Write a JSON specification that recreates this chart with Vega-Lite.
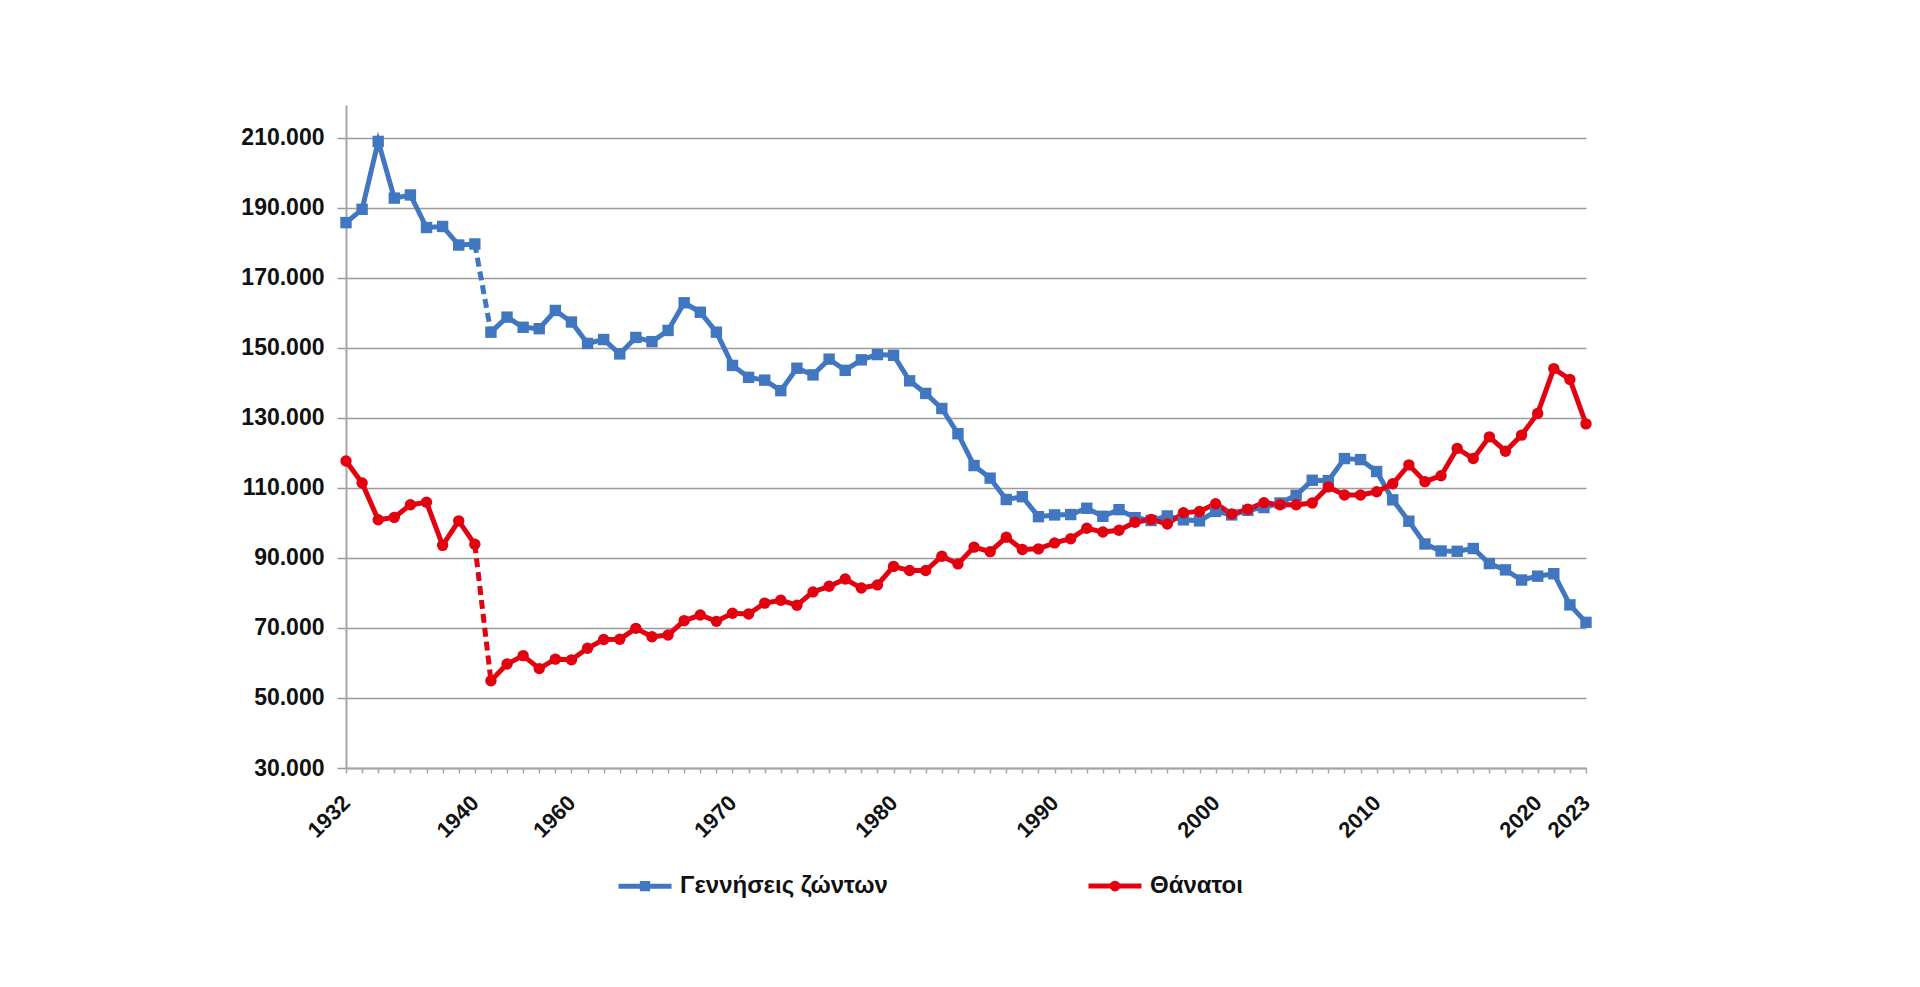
{
  "$schema": "https://vega.github.io/schema/vega-lite/v6.json",
  "width": 1240,
  "height": 663,
  "autosize": "none",
  "padding": {"left": 346, "top": 105, "right": 334, "bottom": 219},
  "background": "white",
  "data": {
    "values": [
      {"year": 1932, "s": "Γεννήσεις ζώντων", "v": 185800},
      {"year": 1933, "s": "Γεννήσεις ζώντων", "v": 189600},
      {"year": 1934, "s": "Γεννήσεις ζώντων", "v": 209000},
      {"year": 1935, "s": "Γεννήσεις ζώντων", "v": 192800},
      {"year": 1936, "s": "Γεννήσεις ζώντων", "v": 193700},
      {"year": 1937, "s": "Γεννήσεις ζώντων", "v": 184400},
      {"year": 1938, "s": "Γεννήσεις ζώντων", "v": 184700},
      {"year": 1939, "s": "Γεννήσεις ζώντων", "v": 179400},
      {"year": 1940, "s": "Γεννήσεις ζώντων", "v": 179700},
      {"year": 1955, "s": "Γεννήσεις ζώντων", "v": 154500},
      {"year": 1956, "s": "Γεννήσεις ζώντων", "v": 158800},
      {"year": 1957, "s": "Γεννήσεις ζώντων", "v": 155900},
      {"year": 1958, "s": "Γεννήσεις ζώντων", "v": 155500},
      {"year": 1959, "s": "Γεννήσεις ζώντων", "v": 160700},
      {"year": 1960, "s": "Γεννήσεις ζώντων", "v": 157400},
      {"year": 1961, "s": "Γεννήσεις ζώντων", "v": 151300},
      {"year": 1962, "s": "Γεννήσεις ζώντων", "v": 152400},
      {"year": 1963, "s": "Γεννήσεις ζώντων", "v": 148300},
      {"year": 1964, "s": "Γεννήσεις ζώντων", "v": 153000},
      {"year": 1965, "s": "Γεννήσεις ζώντων", "v": 151800},
      {"year": 1966, "s": "Γεννήσεις ζώντων", "v": 155000},
      {"year": 1967, "s": "Γεννήσεις ζώντων", "v": 162900},
      {"year": 1968, "s": "Γεννήσεις ζώντων", "v": 160200},
      {"year": 1969, "s": "Γεννήσεις ζώντων", "v": 154500},
      {"year": 1970, "s": "Γεννήσεις ζώντων", "v": 145000},
      {"year": 1971, "s": "Γεννήσεις ζώντων", "v": 141600},
      {"year": 1972, "s": "Γεννήσεις ζώντων", "v": 140800},
      {"year": 1973, "s": "Γεννήσεις ζώντων", "v": 137800},
      {"year": 1974, "s": "Γεννήσεις ζώντων", "v": 144200},
      {"year": 1975, "s": "Γεννήσεις ζώντων", "v": 142300},
      {"year": 1976, "s": "Γεννήσεις ζώντων", "v": 146800},
      {"year": 1977, "s": "Γεννήσεις ζώντων", "v": 143600},
      {"year": 1978, "s": "Γεννήσεις ζώντων", "v": 146600},
      {"year": 1979, "s": "Γεννήσεις ζώντων", "v": 148100},
      {"year": 1980, "s": "Γεννήσεις ζώντων", "v": 147900},
      {"year": 1981, "s": "Γεννήσεις ζώντων", "v": 140600},
      {"year": 1982, "s": "Γεννήσεις ζώντων", "v": 137000},
      {"year": 1983, "s": "Γεννήσεις ζώντων", "v": 132700},
      {"year": 1984, "s": "Γεννήσεις ζώντων", "v": 125500},
      {"year": 1985, "s": "Γεννήσεις ζώντων", "v": 116400},
      {"year": 1986, "s": "Γεννήσεις ζώντων", "v": 112800},
      {"year": 1987, "s": "Γεννήσεις ζώντων", "v": 106700},
      {"year": 1988, "s": "Γεννήσεις ζώντων", "v": 107500},
      {"year": 1989, "s": "Γεννήσεις ζώντων", "v": 101800},
      {"year": 1990, "s": "Γεννήσεις ζώντων", "v": 102300},
      {"year": 1991, "s": "Γεννήσεις ζώντων", "v": 102400},
      {"year": 1992, "s": "Γεννήσεις ζώντων", "v": 104200},
      {"year": 1993, "s": "Γεννήσεις ζώντων", "v": 101900},
      {"year": 1994, "s": "Γεννήσεις ζώντων", "v": 103800},
      {"year": 1995, "s": "Γεννήσεις ζώντων", "v": 101500},
      {"year": 1996, "s": "Γεννήσεις ζώντων", "v": 100700},
      {"year": 1997, "s": "Γεννήσεις ζώντων", "v": 102000},
      {"year": 1998, "s": "Γεννήσεις ζώντων", "v": 100900},
      {"year": 1999, "s": "Γεννήσεις ζώντων", "v": 100600},
      {"year": 2000, "s": "Γεννήσεις ζώντων", "v": 103300},
      {"year": 2001, "s": "Γεννήσεις ζώντων", "v": 102300},
      {"year": 2002, "s": "Γεννήσεις ζώντων", "v": 103600},
      {"year": 2003, "s": "Γεννήσεις ζώντων", "v": 104400},
      {"year": 2004, "s": "Γεννήσεις ζώντων", "v": 105700},
      {"year": 2005, "s": "Γεννήσεις ζώντων", "v": 107900},
      {"year": 2006, "s": "Γεννήσεις ζώντων", "v": 112200},
      {"year": 2007, "s": "Γεννήσεις ζώντων", "v": 112100},
      {"year": 2008, "s": "Γεννήσεις ζώντων", "v": 118400},
      {"year": 2009, "s": "Γεννήσεις ζώντων", "v": 118100},
      {"year": 2010, "s": "Γεννήσεις ζώντων", "v": 114700},
      {"year": 2011, "s": "Γεννήσεις ζώντων", "v": 106600},
      {"year": 2012, "s": "Γεννήσεις ζώντων", "v": 100500},
      {"year": 2013, "s": "Γεννήσεις ζώντων", "v": 94000},
      {"year": 2014, "s": "Γεννήσεις ζώντων", "v": 92000},
      {"year": 2015, "s": "Γεννήσεις ζώντων", "v": 91900},
      {"year": 2016, "s": "Γεννήσεις ζώντων", "v": 92700},
      {"year": 2017, "s": "Γεννήσεις ζώντων", "v": 88400},
      {"year": 2018, "s": "Γεννήσεις ζώντων", "v": 86600},
      {"year": 2019, "s": "Γεννήσεις ζώντων", "v": 83700},
      {"year": 2020, "s": "Γεννήσεις ζώντων", "v": 84800},
      {"year": 2021, "s": "Γεννήσεις ζώντων", "v": 85500},
      {"year": 2022, "s": "Γεννήσεις ζώντων", "v": 76600},
      {"year": 2023, "s": "Γεννήσεις ζώντων", "v": 71600},
      {"year": 1932, "s": "Θάνατοι", "v": 117700},
      {"year": 1933, "s": "Θάνατοι", "v": 111400},
      {"year": 1934, "s": "Θάνατοι", "v": 100900},
      {"year": 1935, "s": "Θάνατοι", "v": 101600},
      {"year": 1936, "s": "Θάνατοι", "v": 105200},
      {"year": 1937, "s": "Θάνατοι", "v": 105900},
      {"year": 1938, "s": "Θάνατοι", "v": 93600},
      {"year": 1939, "s": "Θάνατοι", "v": 100600},
      {"year": 1940, "s": "Θάνατοι", "v": 93900},
      {"year": 1955, "s": "Θάνατοι", "v": 54900},
      {"year": 1956, "s": "Θάνατοι", "v": 59700},
      {"year": 1957, "s": "Θάνατοι", "v": 62100},
      {"year": 1958, "s": "Θάνατοι", "v": 58400},
      {"year": 1959, "s": "Θάνατοι", "v": 61100},
      {"year": 1960, "s": "Θάνατοι", "v": 60900},
      {"year": 1961, "s": "Θάνατοι", "v": 64200},
      {"year": 1962, "s": "Θάνατοι", "v": 66700},
      {"year": 1963, "s": "Θάνατοι", "v": 66800},
      {"year": 1964, "s": "Θάνατοι", "v": 69900},
      {"year": 1965, "s": "Θάνατοι", "v": 67500},
      {"year": 1966, "s": "Θάνατοι", "v": 68000},
      {"year": 1967, "s": "Θάνατοι", "v": 72100},
      {"year": 1968, "s": "Θάνατοι", "v": 73700},
      {"year": 1969, "s": "Θάνατοι", "v": 71900},
      {"year": 1970, "s": "Θάνατοι", "v": 74200},
      {"year": 1971, "s": "Θάνατοι", "v": 74000},
      {"year": 1972, "s": "Θάνατοι", "v": 77100},
      {"year": 1973, "s": "Θάνατοι", "v": 77900},
      {"year": 1974, "s": "Θάνατοι", "v": 76500},
      {"year": 1975, "s": "Θάνατοι", "v": 80300},
      {"year": 1976, "s": "Θάνατοι", "v": 81900},
      {"year": 1977, "s": "Θάνατοι", "v": 84000},
      {"year": 1978, "s": "Θάνατοι", "v": 81400},
      {"year": 1979, "s": "Θάνατοι", "v": 82300},
      {"year": 1980, "s": "Θάνατοι", "v": 87600},
      {"year": 1981, "s": "Θάνατοι", "v": 86400},
      {"year": 1982, "s": "Θάνατοι", "v": 86400},
      {"year": 1983, "s": "Θάνατοι", "v": 90500},
      {"year": 1984, "s": "Θάνατοι", "v": 88300},
      {"year": 1985, "s": "Θάνατοι", "v": 93100},
      {"year": 1986, "s": "Θάνατοι", "v": 91800},
      {"year": 1987, "s": "Θάνατοι", "v": 95900},
      {"year": 1988, "s": "Θάνατοι", "v": 92400},
      {"year": 1989, "s": "Θάνατοι", "v": 92600},
      {"year": 1990, "s": "Θάνατοι", "v": 94300},
      {"year": 1991, "s": "Θάνατοι", "v": 95500},
      {"year": 1992, "s": "Θάνατοι", "v": 98500},
      {"year": 1993, "s": "Θάνατοι", "v": 97400},
      {"year": 1994, "s": "Θάνατοι", "v": 97900},
      {"year": 1995, "s": "Θάνατοι", "v": 100200},
      {"year": 1996, "s": "Θάνατοι", "v": 101000},
      {"year": 1997, "s": "Θάνατοι", "v": 99700},
      {"year": 1998, "s": "Θάνατοι", "v": 102900},
      {"year": 1999, "s": "Θάνατοι", "v": 103300},
      {"year": 2000, "s": "Θάνατοι", "v": 105500},
      {"year": 2001, "s": "Θάνατοι", "v": 102600},
      {"year": 2002, "s": "Θάνατοι", "v": 103900},
      {"year": 2003, "s": "Θάνατοι", "v": 105800},
      {"year": 2004, "s": "Θάνατοι", "v": 105200},
      {"year": 2005, "s": "Θάνατοι", "v": 105200},
      {"year": 2006, "s": "Θάνατοι", "v": 105700},
      {"year": 2007, "s": "Θάνατοι", "v": 110300},
      {"year": 2008, "s": "Θάνατοι", "v": 108000},
      {"year": 2009, "s": "Θάνατοι", "v": 108000},
      {"year": 2010, "s": "Θάνατοι", "v": 108900},
      {"year": 2011, "s": "Θάνατοι", "v": 111200},
      {"year": 2012, "s": "Θάνατοι", "v": 116600},
      {"year": 2013, "s": "Θάνατοι", "v": 111800},
      {"year": 2014, "s": "Θάνατοι", "v": 113500},
      {"year": 2015, "s": "Θάνατοι", "v": 121300},
      {"year": 2016, "s": "Θάνατοι", "v": 118400},
      {"year": 2017, "s": "Θάνατοι", "v": 124600},
      {"year": 2018, "s": "Θάνατοι", "v": 120500},
      {"year": 2019, "s": "Θάνατοι", "v": 125100},
      {"year": 2020, "s": "Θάνατοι", "v": 131300},
      {"year": 2021, "s": "Θάνατοι", "v": 144100},
      {"year": 2022, "s": "Θάνατοι", "v": 141000},
      {"year": 2023, "s": "Θάνατοι", "v": 128300}
    ]
  },
  "encoding": {
    "x": {
      "field": "year",
      "type": "ordinal",
      "title": null,
      "scale": {"type": "point", "padding": 0},
      "axis": {
        "labelAngle": -45,
        "labelAlign": "right",
        "labelBaseline": "middle",
        "labelPadding": 26,
        "labelOverlap": false,
        "labelFontSize": 22,
        "labelFontWeight": "bold",
        "labelColor": "#111111",
        "labelExpr": "indexof([1932, 1940, 1960, 1970, 1980, 1990, 2000, 2010, 2020, 2023], datum.value) >= 0 ? datum.label : ''",
        "tickSize": 5,
        "tickColor": "#a6a6a6",
        "tickWidth": 1.5,
        "domainColor": "#a6a6a6",
        "domainWidth": 2,
        "grid": false
      }
    },
    "y": {
      "field": "v",
      "type": "quantitative",
      "title": null,
      "scale": {"domain": [30000, 219400], "nice": false, "zero": false},
      "axis": {
        "values": [30000, 50000, 70000, 90000, 110000, 130000, 150000, 170000, 190000, 210000],
        "labelExpr": "replace(format(datum.value, ','), ',', '.')",
        "labelFontSize": 23,
        "labelFontWeight": "bold",
        "labelColor": "#111111",
        "labelPadding": 13,
        "tickSize": 9,
        "tickColor": "#9b9b9b",
        "tickWidth": 1.5,
        "domainColor": "#a6a6a6",
        "domainWidth": 2,
        "grid": true,
        "gridColor": "#9b9b9b",
        "gridWidth": 1.5
      }
    },
    "color": {
      "field": "s",
      "type": "nominal",
      "scale": {"domain": ["Γεννήσεις ζώντων", "Θάνατοι"], "range": ["#4177c1", "#e3000f"]},
      "legend": {
        "orient": "none",
        "legendX": 270,
        "legendY": 752,
        "direction": "horizontal",
        "title": null,
        "padding": 0,
        "labelFontSize": 24,
        "labelFontWeight": "bold",
        "labelColor": "#111111",
        "labelLimit": 400,
        "labelOffset": 6,
        "columnPadding": 190,
        "symbolSize": 2809,
        "symbolStrokeWidth": 5,
        "symbolType": "M-1,0H1M-0.1,-0.1H0.1V0.1H-0.1Z",
        "encode": {
          "symbols": {
            "update": {
              "shape": {"signal": "datum.value === 'Θάνατοι' ? 'M-1,0H1M0.11,0A0.11,0.11 0 1 1 -0.11,0A0.11,0.11 0 1 1 0.11,0Z' : 'M-1,0H1M-0.1,-0.1H0.1V0.1H-0.1Z'"},
              "fill": {"signal": "datum.value === 'Θάνατοι' ? '#e3000f' : '#4177c1'"},
              "stroke": {"signal": "datum.value === 'Θάνατοι' ? '#e3000f' : '#4177c1'"},
              "strokeWidth": {"value": 5},
              "fillOpacity": {"value": 1},
              "strokeOpacity": {"value": 1},
              "opacity": {"value": 1}
            }
          }
        }
      }
    }
  },
  "layer": [
    {
      "transform": [{"filter": "datum.year <= 1940"}],
      "mark": {"type": "line", "strokeWidth": 5}
    },
    {
      "transform": [{"filter": "datum.year >= 1955"}],
      "mark": {"type": "line", "strokeWidth": 5}
    },
    {
      "transform": [{"filter": "datum.year == 1940 || datum.year == 1955"}],
      "mark": {"type": "line", "strokeWidth": 5, "strokeDash": [9, 5]}
    },
    {
      "transform": [{"filter": "datum.s == 'Γεννήσεις ζώντων'"}],
      "mark": {"type": "point", "shape": "square", "filled": true, "size": 130, "opacity": 1}
    },
    {
      "transform": [{"filter": "datum.s == 'Θάνατοι'"}],
      "mark": {"type": "point", "shape": "circle", "filled": true, "size": 130, "opacity": 1}
    }
  ],
  "config": {
    "font": "Liberation Sans",
    "view": {"stroke": null}
  }
}
